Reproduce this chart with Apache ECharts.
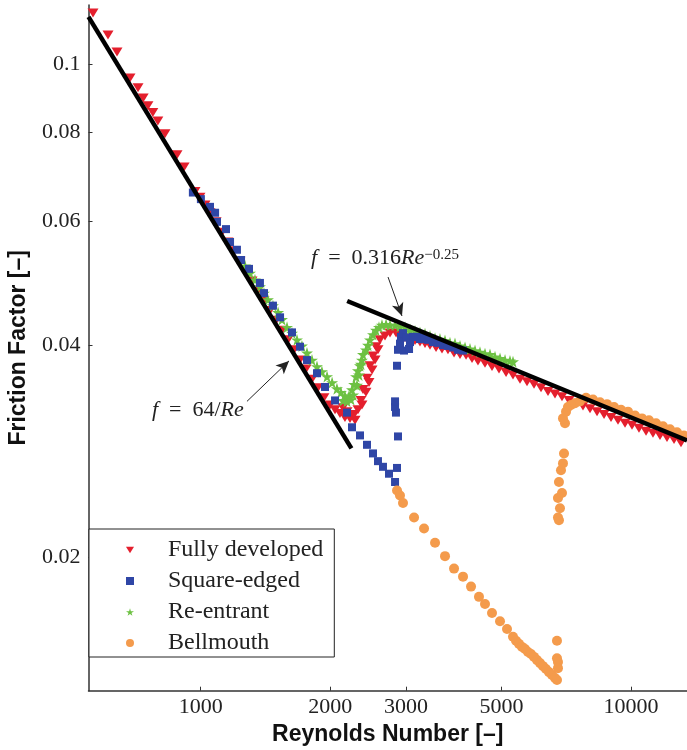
<!DOCTYPE html>
<html><head><meta charset="utf-8">
<script src="https://cdn.jsdelivr.net/npm/echarts@6/dist/echarts.min.js"></script>
<style>html,body{margin:0;padding:0;background:#fff}#c{width:687px;height:750px}</style>
</head><body><div id="c"></div>
<script>
// ---- axis settings (data units) ----
const xTicks = [1000, 2000, 3000, 5000, 10000];
const yTicks = [0.02, 0.04, 0.06, 0.08, 0.1];
const xRange = [548.6, 13493];
const yRange = [0.01296, 0.1213];

// ---- series: [Reynolds number, friction factor] ----
const fullyDeveloped = [
 [562,0.1182],[609,0.1100],[639,0.1041],[685,0.0956],[715,0.0926],[735,0.0896],[754,0.0873],[774,0.0854],[795,0.0831],[826,0.0797],[881,0.0744],[915,0.0715],[970,0.0660],
 [996,0.0648],[1023,0.0632],[1051,0.0616],[1086,0.0598],[1121,0.0578],[1157,0.0560],[1196,0.0544],[1234,0.0526],[1275,0.0509],[1316,0.0493],[1358,0.0477],[1403,0.0462],[1449,0.0448],[1497,0.0434],[1545,0.0420],[1596,0.0407],[1648,0.0394],[1701,0.0381],[1757,0.0370],[1814,0.0358],[1873,0.0348],[1934,0.0337],[1998,0.0329],[2052,0.0324],[2107,0.0320],[2141,0.0326],[2164,0.0316],[2188,0.0322],[2223,0.0315],[2284,0.0313],[2272,0.0319],[2320,0.0324],[2370,0.0329],[2358,0.0334],[2421,0.0343],[2383,0.0346],[2461,0.0354],[2435,0.0359],[2501,0.0369],[2474,0.0374],[2542,0.0381],[2514,0.0386],[2582,0.0394],[2555,0.0398],[2610,0.0407],[2681,0.0412],[2754,0.0416],[2845,0.0416],[2936,0.0413],
 [2984,0.0410],[3065,0.0409],[3148,0.0406],[3233,0.0404],[3321,0.0402],[3411,0.0400],[3523,0.0397],[3637,0.0395],[3755,0.0394],[3879,0.0390],[4005,0.0388],[4137,0.0387],[4271,0.0383],[4409,0.0380],[4578,0.0377],[4753,0.0373],[4934,0.0370],[5124,0.0366],[5318,0.0363],[5521,0.0358],[5732,0.0355],[5951,0.0352],[6178,0.0348],[6413,0.0344],[6658,0.0341],[6912,0.0338],[7175,0.0334],[7451,0.0331],[7734,0.0328],[8030,0.0325],[8337,0.0322],[8656,0.0319],[8985,0.0316],[9327,0.0313],[9684,0.0310],[10053,0.0308],[10436,0.0305],[10837,0.0302],[11248,0.0300],[11677,0.0298],[12123,0.0296],[12588,0.0294],[13066,0.0291]
];
const squareEdged = [
 [959,0.0658],[1001,0.0644],[1051,0.0628],[1080,0.0616],[1091,0.0598],[1145,0.0584],[1170,0.0560],[1214,0.0546],[1241,0.0528],[1295,0.0513],[1373,0.0490],[1403,0.0474],[1472,0.0455],[1529,0.0438],[1630,0.0417],[1701,0.0398],[1766,0.0381],[1863,0.0365],[1945,0.0349],[2052,0.0334],[2188,0.0321],[2247,0.0306],[2345,0.0298],[2435,0.0289],[2514,0.0281],[2582,0.0274],[2652,0.0269],[2739,0.0263],[2829,0.0256],
 [2859,0.0268],[2874,0.0297],[2843,0.0321],[2829,0.0327],[2829,0.0333],[2859,0.0374],[2874,0.0394],[2905,0.0402],[2921,0.0411],
 [2952,0.0416],[2968,0.0393],[3001,0.0410],[3049,0.0395],[3065,0.0404],[3115,0.0411],[3181,0.0411],[3233,0.0408],[3304,0.0410],[3375,0.0407],[3466,0.0404],[3560,0.0403],[3656,0.0400],[3755,0.0399],[3858,0.0397],[3962,0.0394],[4070,0.0393]
];
const reEntrant = [
 [1268,0.0518],[1302,0.0506],[1337,0.0495],[1373,0.0484],[1403,0.0474],[1433,0.0464],[1472,0.0455],[1513,0.0445],[1545,0.0435],[1587,0.0424],[1630,0.0416],[1674,0.0407],[1719,0.0399],[1766,0.0390],[1814,0.0381],[1863,0.0373],[1913,0.0367],[1966,0.0361],[2020,0.0354],[2073,0.0347],[2118,0.0343],[2164,0.0339],[2141,0.0334],[2188,0.0333],[2211,0.0339],[2235,0.0335],[2247,0.0346],[2260,0.0340],[2272,0.0352],[2296,0.0361],[2308,0.0351],[2320,0.0368],[2333,0.0363],[2345,0.0374],[2358,0.0376],[2370,0.0381],[2383,0.0388],[2421,0.0394],[2448,0.0400],[2474,0.0407],[2514,0.0414],[2555,0.0420],[2596,0.0424],[2638,0.0427],[2696,0.0428],[2754,0.0427],[2829,0.0427],[2905,0.0425],[2984,0.0424],[3065,0.0421],[3148,0.0419],[3233,0.0417],[3321,0.0415],[3411,0.0412],[3504,0.0409],[3598,0.0408],[3696,0.0406],[3796,0.0403],[3899,0.0402],[4005,0.0399],[4114,0.0397],[4225,0.0395],[4340,0.0393],[4457,0.0391],[4578,0.0389],[4702,0.0388],[4830,0.0385],[4961,0.0383],[5096,0.0381],[5233,0.0380],[5318,0.0379]
];
const bellmouth = [
 [2859,0.0249],[2905,0.0245],[2952,0.0239],[3132,0.0228],[3304,0.0220],[3504,0.0210],[3696,0.0201],[3879,0.0193],[4070,0.0188],[4248,0.0182],[4433,0.0176],[4578,0.0172],[4753,0.0167],[4961,0.01625],[5150,0.01585],[5318,0.01545],[5405,0.01525],[5491,0.0151],[5581,0.01495],[5671,0.01485],[5762,0.0147],[5855,0.01461],[5951,0.01447],[6047,0.01432],[6145,0.01418],[6245,0.01404],[6344,0.01391],[6447,0.01377],[6552,0.01364],[6658,0.01351],[6729,0.01342],
 [6729,0.01525],[6729,0.01441],[6765,0.01423],[6765,0.01395],
 [6801,0.0226],[6765,0.0228],[6838,0.0235],[6765,0.0243],[6912,0.0247],[6801,0.0256],[6875,0.0266],[6949,0.0272],[6987,0.0281],[7024,0.0310],[6949,0.0315],[7063,0.0322],[7137,0.0327],[7253,0.0329],[7410,0.0331],[7611,0.0333],
 [7861,0.0337],[8160,0.0335],[8471,0.0332],[8795,0.0330],[9132,0.0327],[9479,0.0324],[9840,0.0322],[10216,0.0318],[10605,0.0315],[11010,0.0313],[11433,0.0310],[11866,0.0307],[12319,0.0304],[12789,0.0301],[13279,0.0298]
];
// reference correlations (end points)
const laminarLine = [[548.6,0.1167],[2240,0.02857]];
const blasiusLine = [[2190,0.04619],[13493,0.02932]];
// annotations
const arrowBlasius = [[2725,0.04995],[2936,0.0440]];
const arrowLaminar = [[1281,0.0333],[1604,0.0380]];
const textBlasiusAt = [2681,0.0531];
const textLaminarAt = [985,0.0324];

const L = Math.log10;
const lg = arr => arr.map(p => [L(p[0]), L(p[1])]);

const TRI = 'path://M0,0 L10,0 L5,8 Z';
const STAR = 'path://M50,0 L61,35 L98,35 L68,57 L79,91 L50,70 L21,91 L32,57 L2,35 L39,35 Z';
const SERIF = '"Liberation Serif", "DejaVu Serif", serif';
const SANS = '"Liberation Sans", Arial, sans-serif';

const chart = echarts.init(document.getElementById('c'), null, {renderer:'canvas'});
chart.setOption({
  animation:false,
  backgroundColor:'#fff',
  grid:{left:88.5, right:0, top:5, bottom:59.3, outerBoundsMode:'none'},
  xAxis:{
    type:'value', min:L(xRange[0]), max:L(xRange[1]),
    axisLine:{show:true, onZero:false, lineStyle:{color:'#333', width:1.5}},
    axisTick:{show:true, inside:true, length:4, customValues:xTicks.map(L), lineStyle:{color:'#333', width:1}},
    axisLabel:{show:true, customValues:xTicks.map(L), formatter:v => String(Math.round(Math.pow(10, v))),
      fontFamily:SERIF, fontSize:22, color:'#222', margin:6},
    splitLine:{show:false},
    name:'Reynolds Number [–]', nameLocation:'middle', nameGap:32,
    nameTextStyle:{fontFamily:SANS, fontWeight:'bold', fontSize:23, color:'#111'}
  },
  yAxis:{
    type:'value', min:L(yRange[0]), max:L(yRange[1]),
    axisLine:{show:true, onZero:false, lineStyle:{color:'#333', width:1.5}},
    axisTick:{show:true, inside:true, length:4, customValues:yTicks.map(L), lineStyle:{color:'#333', width:1}},
    axisLabel:{show:true, customValues:yTicks.map(L), formatter:v => String(parseFloat(Math.pow(10, v).toPrecision(2))),
      fontFamily:SERIF, fontSize:22, color:'#222', margin:8},
    splitLine:{show:false},
    name:'Friction Factor [–]', nameLocation:'middle', nameGap:58,
    nameTextStyle:{fontFamily:SANS, fontWeight:'bold', fontSize:23, color:'#111'}
  },
  legend:{
    orient:'vertical', left:89, top:529,
    data:['Fully developed','Square-edged','Re-entrant','Bellmouth'],
    itemWidth:8, itemHeight:8, itemGap:7,
    padding:[9,11,2,37],
    backgroundColor:'#fff', borderColor:'#222', borderWidth:1, borderRadius:0,
    textStyle:{fontFamily:SERIF, fontSize:24, color:'#222', lineHeight:24, padding:[0,0,0,29]}
  },
  series:[
    {type:'scatter', name:'Fully developed', data:lg(fullyDeveloped), symbol:TRI, symbolSize:[11,9],
      itemStyle:{color:'#e41f2d', opacity:1}, z:2},
    {type:'scatter', name:'Re-entrant', data:lg(reEntrant), symbol:STAR, symbolSize:12,
      itemStyle:{color:'#6dc143', opacity:1}, z:3},
    {type:'scatter', name:'Square-edged', data:lg(squareEdged), symbol:'rect', symbolSize:8,
      itemStyle:{color:'#2f46a6', opacity:1}, z:4},
    {type:'scatter', name:'Bellmouth', data:lg(bellmouth), symbol:'circle', symbolSize:10,
      itemStyle:{color:'#f49b4c', opacity:1}, z:5},
    {type:'line', name:'laminar', data:lg(laminarLine), symbol:'none', silent:true, z:10,
      lineStyle:{color:'#000', width:4.5, cap:'butt'},
      markLine:{silent:true, symbol:['none','arrow'], symbolSize:[9,13],
        lineStyle:{color:'#222', width:1, type:'solid'}, label:{show:false},
        data:[
          [{coord:[L(arrowBlasius[0][0]),L(arrowBlasius[0][1])]},{coord:[L(arrowBlasius[1][0]),L(arrowBlasius[1][1])]}],
          [{coord:[L(arrowLaminar[0][0]),L(arrowLaminar[0][1])]},{coord:[L(arrowLaminar[1][0]),L(arrowLaminar[1][1])]}]
        ]},
      markPoint:{silent:true, symbol:'circle', symbolSize:0,
        label:{show:true, position:'inside', fontFamily:SERIF, fontSize:22, color:'#222',
          rich:{i:{fontFamily:SERIF, fontStyle:'italic', fontSize:22, color:'#222'},
                n:{fontFamily:SERIF, fontSize:22, color:'#222'},
                s:{fontFamily:SERIF, fontSize:15, color:'#222', verticalAlign:'top'}}},
        data:[
          {coord:[L(textBlasiusAt[0]),L(textBlasiusAt[1])], label:{formatter:'{i|f}{n|  =  0.316}{i|Re}{s|−0.25}'}},
          {coord:[L(textLaminarAt[0]),L(textLaminarAt[1])], label:{formatter:'{i|f}{n|  =  64/}{i|Re}'}}
        ]}
    },
    {type:'line', name:'blasius', data:lg(blasiusLine), symbol:'none', silent:true, z:10,
      lineStyle:{color:'#000', width:4.5, cap:'butt'}}
  ]
});
</script></body></html>
